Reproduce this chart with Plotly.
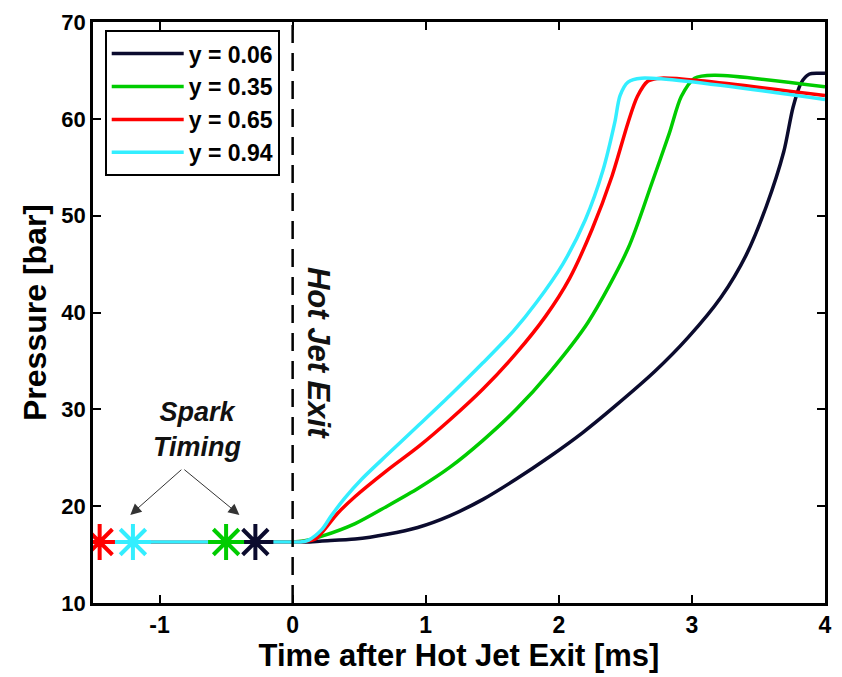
import plotly.graph_objects as go

# Pressure traces at four radial positions; first point of each is the spark timing
labels = ["y = 0.06", "y = 0.35", "y = 0.65", "y = 0.94"]
colors = ["#0b0b2e", "#00cc00", "#ff0000", "#33eeff"]

t_006 = [-0.28, 0.0, 0.1, 0.22, 0.47, 0.71, 0.94, 1.18, 1.43, 1.68, 1.93, 2.18, 2.42,
         2.72, 2.97, 3.22, 3.41, 3.56, 3.69, 3.76, 3.82, 3.88, 3.95, 4.0]
p_006 = [16.3, 16.3, 16.3, 16.4, 16.6, 17.1, 17.8, 19.0, 20.7, 22.8, 25.1, 27.6, 30.3,
         33.9, 37.4, 41.6, 46.0, 51.0, 56.6, 61.2, 63.7, 64.6, 64.7, 64.7]

t_035 = [-0.5, 0.0, 0.08, 0.22, 0.47, 0.71, 0.95, 1.18, 1.43, 1.68, 1.93, 2.22, 2.52,
         2.70, 2.83, 2.92, 3.02, 3.17, 4.0]
p_035 = [16.3, 16.3, 16.4, 16.9, 18.2, 20.0, 21.9, 24.0, 26.8, 30.0, 33.8, 39.0, 46.6,
         53.4, 58.5, 62.3, 64.2, 64.5, 63.3]

t_065 = [-1.45, 0.0, 0.08, 0.17, 0.34, 0.47, 0.71, 0.95, 1.18, 1.43, 1.68, 1.90, 2.08,
         2.25, 2.40, 2.52, 2.59, 2.67, 2.77, 4.0]
p_065 = [16.3, 16.3, 16.35, 16.6, 19.3, 21.0, 23.7, 26.2, 28.9, 32.1, 35.8, 39.6, 43.5,
         48.6, 54.1, 59.6, 62.3, 63.9, 64.2, 62.4]

t_094 = [-1.2, 0.0, 0.06, 0.12, 0.22, 0.29, 0.39, 0.52, 0.71, 0.95, 1.18, 1.43, 1.66,
         1.83, 2.03, 2.20, 2.33, 2.42, 2.46, 2.52, 2.62, 4.0]
p_094 = [16.3, 16.3, 16.3, 16.5, 17.6, 19.0, 20.8, 22.8, 25.3, 28.4, 31.4, 34.8, 38.1,
         41.0, 45.0, 49.6, 54.6, 59.6, 62.4, 63.8, 64.2, 62.0]

x_ticks = [-1, 0, 1, 2, 3, 4]
x_ticktext = ["-1", "0", "1", "2", "3", "4"]
y_ticks = [10, 20, 30, 40, 50, 60, 70]

series_t = [t_006, t_035, t_065, t_094]
series_p = [p_006, p_035, p_065, p_094]

BOLD = "Liberation Sans, Arial, sans-serif"

fig = go.Figure()

for name, col, t, p in zip(labels, colors, series_t, series_p):
    fig.add_trace(go.Scatter(
        x=t, y=p, mode="lines", name=name,
        line=dict(color=col, width=3.5, shape="spline", smoothing=0.8),
    ))

# spark timing markers
for col, t, p in zip(colors, series_t, series_p):
    fig.add_trace(go.Scatter(
        x=[t[0]], y=[p[0]], mode="markers", showlegend=False,
        marker=dict(symbol="asterisk-open", size=30, color=col,
                    line=dict(color=col, width=4)),
    ))

# hot jet exit line
fig.add_shape(type="line", x0=0, x1=0, y0=10, y1=70, xref="x", yref="y",
              line=dict(color="black", width=2.5, dash="18px,10px"))

fig.add_annotation(x=0.2, y=35.8, xref="x", yref="y", text="<i>Hot Jet Exit</i>",
                   textangle=90, showarrow=False,
                   font=dict(family=BOLD, size=31, color="#111", weight="bold"))

fig.add_annotation(x=-0.714, y=27.9, xref="x", yref="y",
                   text="<i>Spark<br>Timing</i>", showarrow=False,
                   font=dict(family=BOLD, size=27, color="#111", weight="bold"))

for tip_x in [-1.22, -0.40]:
    fig.add_annotation(x=tip_x, y=19.1, ax=-0.825, ay=23.9, xref="x", yref="y",
                       axref="x", ayref="y", text="", showarrow=True,
                       arrowhead=2, arrowsize=2.2, arrowwidth=1, arrowcolor="#333")

axis_common = dict(
    showline=True, linecolor="black", linewidth=2.5, mirror="ticks",
    ticks="inside", ticklen=8, tickwidth=2, tickcolor="black",
    showgrid=False, zeroline=False,
)

fig.update_xaxes(
    range=[-1.5, 4], tickvals=x_ticks, ticktext=x_ticktext,
    title=dict(text="Time after Hot Jet Exit [ms]", standoff=4,
               font=dict(family=BOLD, size=31, color="black", weight="bold")),
    tickfont=dict(family=BOLD, size=23, color="black", weight="bold"),
    **axis_common,
)
fig.update_yaxes(
    range=[10, 70], tickvals=y_ticks,
    title=dict(text="Pressure [bar]", standoff=6,
               font=dict(family=BOLD, size=32, color="black", weight="bold")),
    tickfont=dict(family=BOLD, size=22, color="black", weight="bold"),
    **axis_common,
)

fig.update_layout(
    width=842, height=677,
    margin=dict(l=93, r=10, t=18, b=74),
    paper_bgcolor="white", plot_bgcolor="white",
    legend=dict(x=0.016, y=0.986, xanchor="left", yanchor="top",
                bgcolor="white", bordercolor="black", borderwidth=2,
                font=dict(family=BOLD, size=23, color="black", weight="bold"),
                itemwidth=72),
    showlegend=True,
)

fig.write_html("out.html")
